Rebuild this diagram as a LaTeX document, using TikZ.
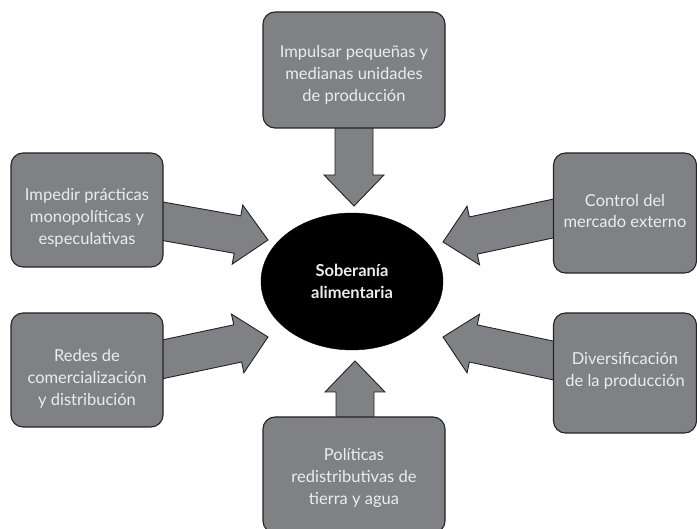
\documentclass[tikz,border=0pt]{standalone}
\usepackage{fontspec}
\setmainfont{Lato}
\usetikzlibrary{calc,shapes.geometric}
\definecolor{boxgray}{RGB}{128,129,133}
\definecolor{boxtext}{RGB}{236,236,236}
\definecolor{edgecol}{RGB}{35,35,35}
\tikzset{
  box/.style={draw=edgecol, line width=1.1pt, fill=boxgray, rounded corners=12pt,
    minimum width=#1, inner sep=0pt},
  boxlabel/.style={align=center, text=boxtext, inner sep=0pt,
    font=\fontsize{16.5}{21.7}\selectfont},
  core/.style={ellipse, fill=black, draw=black, minimum width=182pt, minimum height=137pt,
    inner sep=0pt, align=center, text=boxtext, font=\bfseries\fontsize{16.5}{22}\selectfont},
  fatarrow/.style={draw=edgecol, line width=0.9pt, fill=boxgray, line join=miter}
}
% \fatarrowpath{start}{tip}
\newcommand{\fatarrowpath}[2]{%
  \path[fatarrow]
    ($#1!19pt!90:#2$) --
    ($($#2!31pt!#1$)!19pt!90:#2$) --
    ($($#2!31pt!#1$)!30pt!90:#2$) --
    #2 --
    ($($#2!31pt!#1$)!30pt!-90:#2$) --
    ($($#2!31pt!#1$)!19pt!-90:#2$) --
    ($#1!19pt!-90:#2$) -- cycle;}
\begin{document}
\begin{tikzpicture}[x=1pt,y=-1pt]
\useasboundingbox (0,0) rectangle (697,529);
\node[core] (c) at (352,281.5) {Soberanía\\alimentaria};
% box positions
\coordinate (ptop) at (354,70);
\coordinate (ptl) at (87,210);
\coordinate (ptr) at (625,213);
\coordinate (pbl) at (87,370);
\coordinate (pbr) at (625,373);
\coordinate (pbot) at (354,475);
% arrow endpoints
\coordinate (atop) at (354,120);  \coordinate (ttop) at (354,206);
\coordinate (atl) at (150,219);   \coordinate (ttl) at (268,240);
\coordinate (atr) at (565,216);   \coordinate (ttr) at (443,242);
\coordinate (abl) at (150,362);   \coordinate (tbl) at (268,337);
\coordinate (abr) at (565,363);   \coordinate (tbr) at (443,337);
\coordinate (abot) at (355,425);  \coordinate (tbot) at (355,361);
\fatarrowpath{(atop)}{(ttop)}
\fatarrowpath{(atl)}{(ttl)}
\fatarrowpath{(atr)}{(ttr)}
\fatarrowpath{(abl)}{(tbl)}
\fatarrowpath{(abr)}{(tbr)}
\fatarrowpath{(abot)}{(tbot)}
\node[box=182pt, minimum height=116pt] (top) at (ptop) {};
\node[box=152pt, minimum height=114pt] (tl) at (ptl) {};
\node[box=143pt, minimum height=120pt] (tr) at (ptr) {};
\node[box=152pt, minimum height=114pt] (bl) at (pbl) {};
\node[box=143pt, minimum height=120pt] (br) at (pbr) {};
\node[box=182pt, minimum height=116pt] (bot) at (pbot) {};
\node[boxlabel] (toptext) at ($(top.center)+(0,5)$) {Impulsar pequeñas y\\medianas unidades\\de producción};
\node[boxlabel] (tltext) at ($(tl.center)+(0,8)$) {Impedir prácticas\\monopolíticas y\\especulativas};
\node[boxlabel] (trtext) at ($(tr.center)+(0,-2)$) {Control del\\mercado externo};
\node[boxlabel] (bltext) at ($(bl.center)+(0,9)$) {Redes de\\comercialización\\y distribución};
\node[boxlabel] (brtext) at ($(br.center)+(0,-2)$) {Diversificación\\de la producción};
\node[boxlabel] (bottext) at ($(bot.center)+(0,3)$) {Políticas\\redistributivas de\\tierra y agua};
\end{tikzpicture}
\end{document}
